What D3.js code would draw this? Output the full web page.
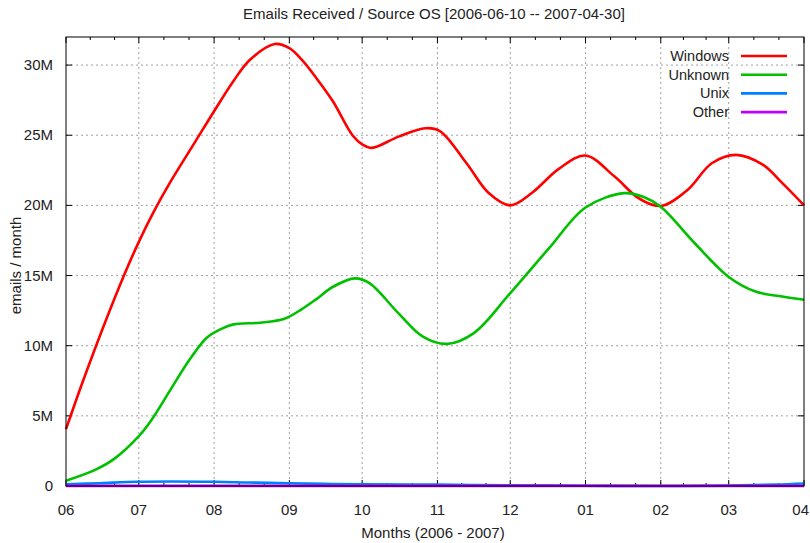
<!DOCTYPE html>
<html>
<head>
<meta charset="utf-8">
<script src="https://cdn.jsdelivr.net/npm/d3@7"></script>
<style>
  body { margin: 0; background: #fff; }
  text { font-family: "Liberation Sans", Arial, sans-serif; fill: #222; }
</style>
</head>
<body>
<div id="chart"></div>
<script>
// values in millions of emails per month
const winDates = ['2006-06-01','2006-06-08','2006-06-17','2006-06-25','2006-07-01','2006-07-07','2006-07-14','2006-07-24',
  '2006-08-01','2006-08-09','2006-08-16','2006-08-26','2006-09-01','2006-09-06','2006-09-12','2006-09-19','2006-09-27',
  '2006-10-01','2006-10-05','2006-10-16','2006-10-27','2006-11-02','2006-11-13','2006-11-22','2006-12-01','2006-12-10',
  '2006-12-21','2007-01-01','2007-01-13','2007-01-23','2007-02-01','2007-02-12','2007-02-22','2007-03-04','2007-03-15',
  '2007-03-23','2007-04-01'];
const winValues = [4.05, 7.48, 11.62, 15.06, 17.4, 19.5, 21.67, 24.47,
  26.71, 28.87, 30.41, 31.5, 31.2, 30.4, 29.1, 27.4, 25.0,
  24.35, 24.1, 24.9, 25.5, 25.3, 23.0, 20.9, 20.0, 20.9,
  22.6, 23.55, 22.05, 20.5, 19.96, 21.1, 23.0, 23.6, 22.9,
  21.6, 20.0];

const unkDates = ['2006-06-01','2006-06-13','2006-06-21','2006-07-01','2006-07-06','2006-07-14','2006-07-22','2006-07-29',
  '2006-08-04','2006-08-09','2006-08-20','2006-08-30','2006-09-06','2006-09-12','2006-09-19','2006-09-28','2006-10-04',
  '2006-10-16','2006-10-26','2006-11-05','2006-11-16','2006-12-01','2006-12-17','2007-01-01','2007-01-17','2007-01-25',
  '2007-02-01','2007-02-15','2007-03-01','2007-03-12','2007-03-23','2007-04-01'];
const unkValues = [0.38, 1.15, 1.95, 3.55, 4.65, 6.85, 9.03, 10.57,
  11.2, 11.52, 11.64, 11.92, 12.59, 13.3, 14.2, 14.8, 14.46,
  12.3, 10.65, 10.13, 10.9, 13.75, 16.95, 19.85, 20.87, 20.6,
  19.9, 17.3, 14.9, 13.86, 13.5, 13.27];

const unixDates = ['2006-06-01','2006-06-15','2006-07-01','2006-08-01','2006-08-15','2006-09-01','2006-09-15','2006-10-01',
  '2006-11-01','2006-12-01','2007-01-01','2007-02-01','2007-03-01','2007-03-20','2007-04-01'];
const unixValues = [0.12, 0.2, 0.3, 0.3, 0.25, 0.2, 0.15, 0.12, 0.1, 0.05, 0.02, 0.0, 0.03, 0.1, 0.18];

const otherDates = ['2006-06-01','2006-09-01','2006-12-01','2007-04-01'];
const otherValues = [0.01, 0.01, 0.01, 0.01];

const seriesNames = ['Windows', 'Unknown', 'Unix', 'Other'];
const seriesColors = ['#ff0000', '#00c000', '#0080ff', '#c000ff'];

const monthTicks = ['2006-06-01','2006-07-01','2006-08-01','2006-09-01','2006-10-01','2006-11-01','2006-12-01',
  '2007-01-01','2007-02-01','2007-03-01','2007-04-01'];
const yTicks = [0, 5, 10, 15, 20, 25, 30];

const width = 810;
const height = 543;
const margin = {top: 37, right: 6, bottom: 57, left: 66};
const fontSize = 15;

const parse = d3.timeParse('%Y-%m-%d');
const series = [
  {dates: winDates, values: winValues},
  {dates: unkDates, values: unkValues},
  {dates: unixDates, values: unixValues},
  {dates: otherDates, values: otherValues}
].map((s, i) => ({
  name: seriesNames[i],
  color: seriesColors[i],
  points: s.dates.map((d, j) => ({date: parse(d), value: s.values[j]}))
}));

const svg = d3.select('#chart')
  .append('svg')
  .attr('width', width)
  .attr('height', height);

const x = d3.scaleTime()
  .domain([parse('2006-06-01'), parse('2007-04-01')])
  .range([margin.left, width - margin.right]);

const y = d3.scaleLinear()
  .domain([0, 32])
  .range([height - margin.bottom, margin.top]);

const months = monthTicks.map(parse);
const pLeft = margin.left, pRight = width - margin.right;
const pTop = margin.top, pBottom = height - margin.bottom;

// grid
svg.append('g')
  .selectAll('line')
  .data(months.slice(1, -1))
  .join('line')
    .attr('x1', d => x(d)).attr('x2', d => x(d))
    .attr('y1', pTop).attr('y2', pBottom)
    .attr('stroke', '#a0a0a0')
    .attr('stroke-dasharray', '2,3');

svg.append('g')
  .selectAll('line')
  .data(yTicks.slice(1))
  .join('line')
    .attr('x1', pLeft).attr('x2', pRight)
    .attr('y1', d => y(d)).attr('y2', d => y(d))
    .attr('stroke', '#a0a0a0')
    .attr('stroke-dasharray', '2,3');

// minor ticks: two per month
const minor = [];
for (let i = 0; i < months.length - 1; i++) {
  const a = x(months[i]), b = x(months[i + 1]);
  minor.push(a + (b - a) / 3, a + 2 * (b - a) / 3);
}

const ticks = svg.append('g').attr('stroke', '#000');
months.forEach(d => {
  ticks.append('line').attr('x1', x(d)).attr('x2', x(d)).attr('y1', pBottom).attr('y2', pBottom - 6);
  ticks.append('line').attr('x1', x(d)).attr('x2', x(d)).attr('y1', pTop).attr('y2', pTop + 6);
});
minor.forEach(v => {
  ticks.append('line').attr('x1', v).attr('x2', v).attr('y1', pBottom).attr('y2', pBottom - 3);
  ticks.append('line').attr('x1', v).attr('x2', v).attr('y1', pTop).attr('y2', pTop + 3);
});
yTicks.forEach(d => {
  ticks.append('line').attr('x1', pLeft).attr('x2', pLeft + 6).attr('y1', y(d)).attr('y2', y(d));
  ticks.append('line').attr('x1', pRight).attr('x2', pRight - 6).attr('y1', y(d)).attr('y2', y(d));
});

// axis labels
svg.append('g')
  .selectAll('text')
  .data(months)
  .join('text')
    .attr('x', (d, i) => i === months.length - 1 ? width - 1 : x(d))
    .attr('y', pBottom + 29)
    .attr('text-anchor', (d, i) => i === months.length - 1 ? 'end' : 'middle')
    .attr('font-size', fontSize)
    .text(d3.timeFormat('%m'));

svg.append('g')
  .selectAll('text')
  .data(yTicks)
  .join('text')
    .attr('x', pLeft - 13)
    .attr('y', d => y(d) + 5)
    .attr('text-anchor', 'end')
    .attr('font-size', fontSize)
    .text(d => d === 0 ? '0' : d + 'M');

// lines
const line = d3.line()
  .x(d => x(d.date))
  .y(d => y(d.value))
  .curve(d3.curveCatmullRom.alpha(0.5));

svg.append('g')
  .selectAll('path')
  .data(series)
  .join('path')
    .attr('fill', 'none')
    .attr('stroke', d => d.color)
    .attr('stroke-width', 2.6)
    .attr('stroke-linejoin', 'round')
    .attr('d', d => line(d.points));

// frame
svg.append('rect')
  .attr('x', pLeft).attr('y', pTop)
  .attr('width', pRight - pLeft).attr('height', pBottom - pTop)
  .attr('fill', 'none')
  .attr('stroke', '#000');

// legend
const legend = svg.append('g')
  .selectAll('g')
  .data(series)
  .join('g')
    .attr('transform', (d, i) => `translate(0, ${56 + i * 18.7})`);
legend.append('text')
  .attr('x', 729).attr('y', 5)
  .attr('text-anchor', 'end')
  .attr('font-size', 14.5)
  .text(d => d.name);
legend.append('line')
  .attr('x1', 741).attr('x2', 787)
  .attr('stroke', d => d.color)
  .attr('stroke-width', 2.6);

// titles
svg.append('text')
  .attr('x', 434).attr('y', 19)
  .attr('text-anchor', 'middle')
  .attr('font-size', fontSize)
  .text('Emails Received / Source OS [2006-06-10 -- 2007-04-30]');

svg.append('text')
  .attr('x', 433).attr('y', 538)
  .attr('text-anchor', 'middle')
  .attr('font-size', fontSize)
  .text('Months (2006 - 2007)');

svg.append('text')
  .attr('transform', `translate(21, ${(pTop + pBottom) / 2 + 4}) rotate(-90)`)
  .attr('text-anchor', 'middle')
  .attr('font-size', fontSize)
  .text('emails / month');
</script>
</body>
</html>
